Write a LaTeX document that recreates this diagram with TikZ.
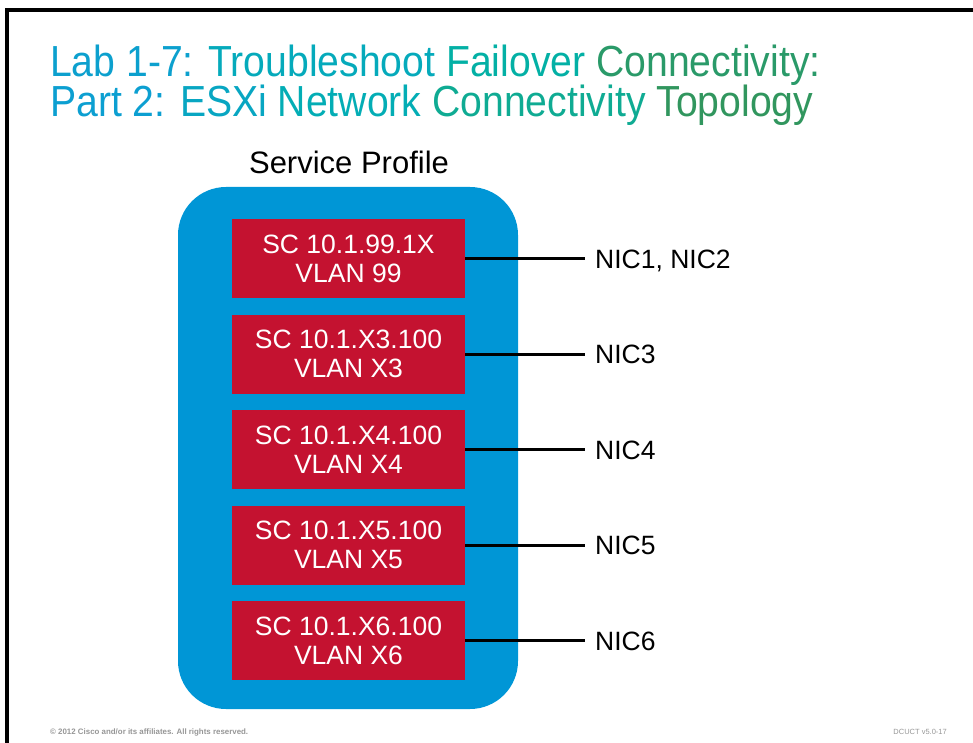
\documentclass[tikz,border=0pt]{standalone}
\usepackage{fontspec}
\setmainfont{Liberation Sans}
\newfontfamily\titlefont[FakeStretch=0.9]{Liberation Sans}
\definecolor{spblue}{RGB}{0,150,214}
\definecolor{scred}{RGB}{196,18,48}
\definecolor{footgray}{RGB}{150,150,150}
\definecolor{ta}{RGB}{12,160,206}
\definecolor{tb}{RGB}{5,170,187}
\definecolor{tc}{RGB}{3,176,165}
\definecolor{td}{RGB}{42,154,105}
\definecolor{te}{RGB}{12,159,209}
\definecolor{tf}{RGB}{8,166,194}
\definecolor{tg}{RGB}{3,173,181}
\definecolor{th}{RGB}{15,171,147}
\definecolor{ti}{RGB}{49,150,94}
\begin{document}
\begin{tikzpicture}[x=1pt,y=-1pt,
  container/.style={fill=spblue, draw=none, rounded corners=48pt, inner sep=0pt},
  scbox/.style={fill=scred, draw=none, minimum width=233pt, minimum height=79pt, inner sep=0pt,
    text=white, font=\fontsize{26.5}{29}\selectfont, align=center},
  niclabel/.style={anchor=west, inner xsep=10pt, inner ysep=0pt, text height=19pt, text depth=0pt,
    font=\fontsize{26.5}{29}\selectfont},
  link/.style={line width=3pt, draw=black},
  titletext/.style={anchor=base west, inner sep=0pt, font=\titlefont\fontsize{43.5}{38.7}\selectfont},
  foot/.style={inner sep=0pt, text=footgray, font=\fontsize{7.5}{9}\selectfont},
]
\useasboundingbox (0,0) rectangle (973,743);
% frame
\fill[black] (5,8) rectangle (973,12);
\fill[black] (5,8) rectangle (9,743);
% title
\node[titletext] (title1) at (50,77) {\textcolor{ta}{Lab 1-7:} \textcolor{tb}{Troubleshoot} \textcolor{tc}{Failover} \textcolor{td}{Connectivity:}};
\node[titletext] (title2) at (50,116.5) {\textcolor{te}{Part 2:} \textcolor{tf}{ESXi} \textcolor{tg}{Network} \textcolor{th}{Connectivity} \textcolor{ti}{Topology}};
% service profile
\node[anchor=base, inner sep=0pt, font=\fontsize{31}{31}\selectfont] (sptitle) at (349,174) {Service Profile};
\node[container, minimum width=340pt, minimum height=522pt] (sp) at (348,448) {};
\node[scbox] (sc1) at (348.5,258.5) {SC 10.1.99.1X\\VLAN 99};
\node[scbox] (sc2) at (348.5,354) {SC 10.1.X3.100\\VLAN X3};
\node[scbox] (sc3) at (348.5,449.5) {SC 10.1.X4.100\\VLAN X4};
\node[scbox] (sc4) at (348.5,545) {SC 10.1.X5.100\\VLAN X5};
\node[scbox] (sc5) at (348.5,640.5) {SC 10.1.X6.100\\VLAN X6};
% NIC labels
\node[niclabel] (nic1) at (585,258.5) {NIC1, NIC2};
\node[niclabel] (nic2) at (585,354) {NIC3};
\node[niclabel] (nic3) at (585,449.5) {NIC4};
\node[niclabel] (nic4) at (585,545) {NIC5};
\node[niclabel] (nic5) at (585,640.5) {NIC6};
\draw[link] (sc1.east) -- (nic1.west);
\draw[link] (sc2.east) -- (nic2.west);
\draw[link] (sc3.east) -- (nic3.west);
\draw[link] (sc4.east) -- (nic4.west);
\draw[link] (sc5.east) -- (nic5.west);
% footer
\node[foot, anchor=base west, font=\bfseries\fontsize{7.9}{9}\selectfont] (copy) at (50,734) {© 2012 Cisco and/or its affiliates. All rights reserved.};
\node[foot, anchor=base east] (code) at (947,734) {DCUCT v5.0-17};
\end{tikzpicture}
\end{document}
